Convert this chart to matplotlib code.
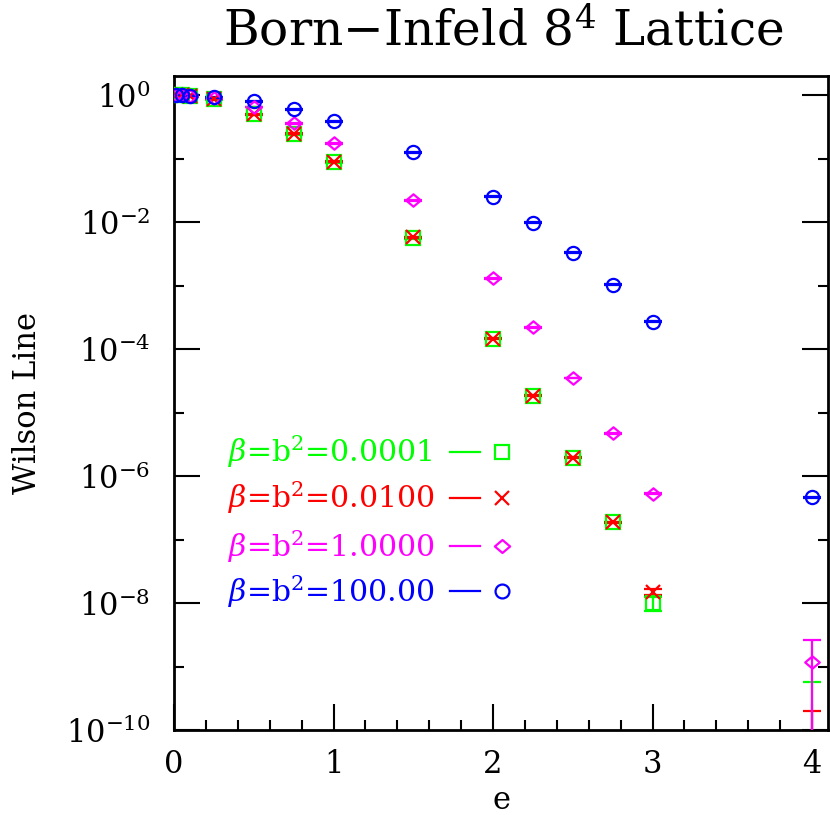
import matplotlib
matplotlib.use("Agg")
import matplotlib.pyplot as plt
from matplotlib.path import Path
import numpy as np

plt.rcParams['font.family'] = ['DejaVu Serif']
plt.rcParams['mathtext.fontset'] = 'dejavuserif'

# ---- data ----
e_vals = [0.01, 0.05, 0.1, 0.25, 0.5, 0.75, 1.0, 1.5, 2.0, 2.25, 2.5, 2.75, 3.0, 4.0]

w_b0001 = [1.0, 0.99, 0.97, 0.87, 0.50, 0.24, 0.088, 5.6e-3, 1.45e-4, 1.85e-5, 1.95e-6, 1.86e-7, 1.0e-8, -1e-10]
err_b0001 = [0.02, 0.02, 0.02, 0.02, 0.01, 0.005, 0.002, 2.5e-4, 3e-6, 4e-7, 4e-8, 4e-9, 2.6e-9, 6.6e-10]

w_b0100 = [1.0, 0.99, 0.97, 0.88, 0.50, 0.245, 0.090, 5.8e-3, 1.45e-4, 1.85e-5, 1.95e-6, 1.86e-7, 1.5e-8, -3e-10]
err_b0100 = [0.02, 0.02, 0.02, 0.02, 0.01, 0.005, 0.002, 1e-4, 3e-6, 4e-7, 4e-8, 4e-9, 1.5e-9, 5e-10]

w_b1 = [1.0, 0.99, 0.97, 0.91, 0.65, 0.36, 0.175, 0.022, 1.3e-3, 2.2e-4, 3.5e-5, 4.7e-6, 5.3e-7, 1.17e-9]
err_b1 = [0.02, 0.02, 0.02, 0.02, 0.01, 0.006, 0.003, 4e-4, 2.5e-5, 4e-6, 6e-7, 8e-8, 9e-9, 1.45e-9]

w_b100 = [1.0, 0.99, 0.98, 0.93, 0.80, 0.60, 0.39, 0.125, 0.025, 0.0098, 0.0033, 1.03e-3, 2.7e-4, 4.6e-7]
err_b100 = [0.02, 0.02, 0.02, 0.02, 0.015, 0.01, 0.006, 2e-3, 4e-4, 1.5e-4, 5e-5, 1.5e-5, 4e-6, 7e-9]

series_labels = [r'$\beta$=b$^2$=0.0001', r'$\beta$=b$^2$=0.0100',
                 r'$\beta$=b$^2$=1.0000', r'$\beta$=b$^2$=100.00']
series_colors = ['#00ff00', '#ff0000', '#ff00ff', '#0000ff']

xticks = [0, 1, 2, 3, 4]
yticks = [1e0, 1e-2, 1e-4, 1e-6, 1e-8, 1e-10]
ytick_labels = [r'$10^{0}$', r'$10^{-2}$', r'$10^{-4}$', r'$10^{-6}$', r'$10^{-8}$', r'$10^{-10}$']

title = r'Born$-$Infeld 8$^4$ Lattice'

# ---- figure ----
W, H = 830, 815
fig = plt.figure(figsize=(W / 100, H / 100), dpi=100)
ax = fig.add_axes([174 / W, 1 - 730 / H, 654 / W, 654 / H])

diamond = Path([(-1, 0), (0, 0.85), (1, 0), (0, -0.85), (-1, 0)],
               [Path.MOVETO, Path.LINETO, Path.LINETO, Path.LINETO, Path.CLOSEPOLY])
markers = ['s', 'x', diamond, 'o']
msizes = [9.5, 10, 10.5, 9.5]

all_y = [w_b0001, w_b0100, w_b1, w_b100]
all_err = [err_b0001, err_b0100, err_b1, err_b100]

for y, err, col, mk, ms in zip(all_y, all_err, series_colors, markers, msizes):
    ax.errorbar(e_vals, y, yerr=err, fmt='none', ecolor=col, elinewidth=1.6,
                capsize=6.5, capthick=1.6, zorder=3)
    ax.plot(e_vals, y, linestyle='none', marker=mk, markersize=ms,
            markerfacecolor='none', markeredgecolor=col, markeredgewidth=1.6, zorder=4)

ax.set_yscale('log', nonpositive='clip')
ax.set_xlim(0, 4.1)
ax.set_ylim(1e-10, 2)

ax.set_xticks(xticks)
ax.set_xticklabels([str(t) for t in xticks])
ax.set_xticks(np.arange(0, 4.1, 0.2), minor=True)
ax.set_yticks(yticks)
ax.set_yticklabels(ytick_labels)
ax.set_yticks([1e-1, 1e-3, 1e-5, 1e-7, 1e-9], minor=True)
ax.yaxis.set_minor_formatter(matplotlib.ticker.NullFormatter())

ax.tick_params(which='major', direction='in', length=19, width=1.5,
               top=False, right=True, labelsize=22)
ax.tick_params(which='minor', direction='in', length=7, width=1.5,
               top=False, right=True)
ax.tick_params(axis='x', which='major', pad=14)
ax.tick_params(axis='y', which='major', pad=17)
for sp in ax.spines.values():
    sp.set_linewidth(2)

ax.set_xlabel('e', fontsize=22, labelpad=3)
ax.set_ylabel('Wilson Line', fontsize=22, labelpad=16)

fig.text(503 / W, 1 - 32 / H, title, fontsize=35, ha='center', va='center')

# ---- legend (custom) ----
row_y = [0.425, 0.355, 0.281, 0.212]
for lab, col, mk, ms, yy in zip(series_labels, series_colors, markers, msizes, row_y):
    ax.text(0.083, yy, lab, color=col, fontsize=21.5, ha='left', va='center',
            transform=ax.transAxes)
    ax.plot([0.422, 0.468], [yy, yy], color=col, lw=1.6, transform=ax.transAxes,
            clip_on=False)
    ax.plot([0.502], [yy], linestyle='none', marker=mk, markersize=ms + 0.5,
            markerfacecolor='none', markeredgecolor=col, markeredgewidth=1.6,
            transform=ax.transAxes, clip_on=False)

fig.savefig('out.png', dpi=100)
